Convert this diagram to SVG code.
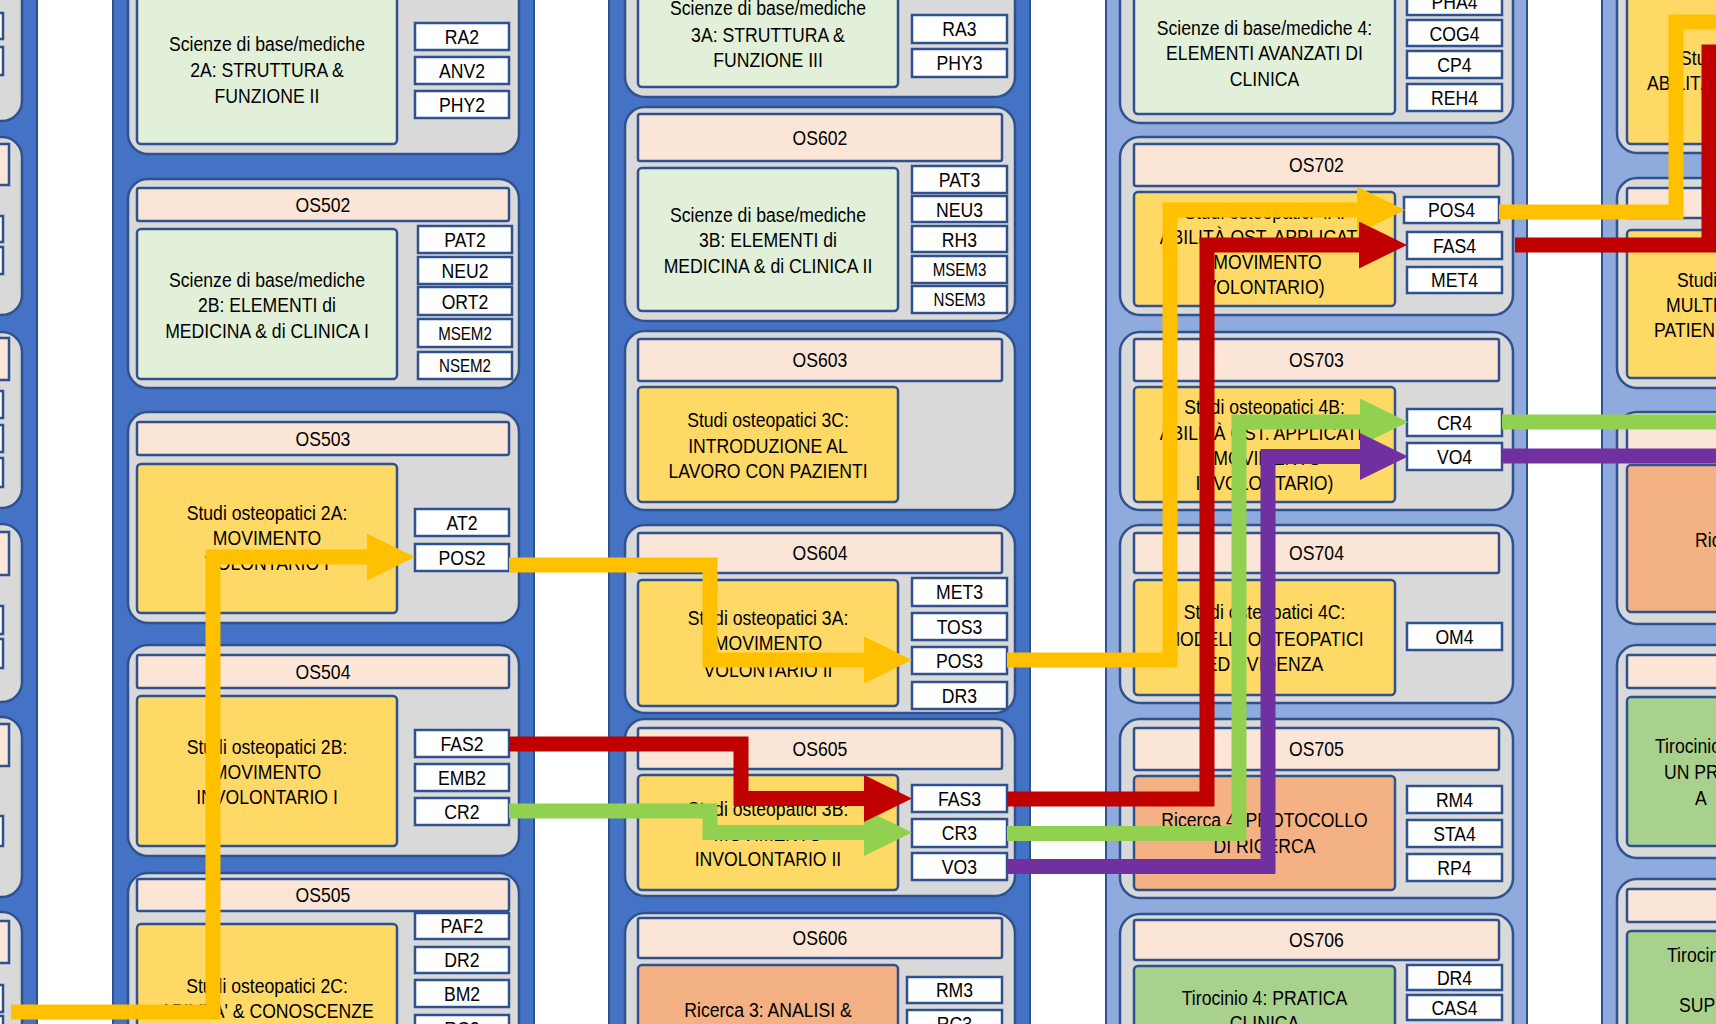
<svg xmlns="http://www.w3.org/2000/svg" width="1716" height="1024" viewBox="0 0 1716 1024">
<style>
.col{fill:#4472C4;stroke:#2F528F;stroke-width:2}
.colL{fill:#8FAADC;stroke:#2F528F;stroke-width:2}
.pn{fill:#D9D9D9;stroke:#2F528F;stroke-width:2.5}
.hd{fill:#FBE5D6;stroke:#2F528F;stroke-width:2.5}
.sci{fill:#E2F0D9;stroke:#2F528F;stroke-width:2.5}
.ost{fill:#FFD966;stroke:#2F528F;stroke-width:2.5}
.ric{fill:#F4B183;stroke:#2F528F;stroke-width:2.5}
.tir{fill:#A9D18E;stroke:#2F528F;stroke-width:2.5}
.sm{fill:#FFFFFF;stroke:#2F528F;stroke-width:2.5}
text{font-family:"Liberation Sans Narrow","Arial Narrow","Liberation Sans",sans-serif;font-size:21px;text-anchor:middle;fill:#000;transform-box:fill-box;transform-origin:50% 50%;transform:scaleX(0.84)}
.s18{font-size:18px}
.st{text-anchor:start;transform-origin:0% 50%}
.ln{fill:none;stroke-width:15;stroke-linejoin:miter;stroke-linecap:butt}
.y{stroke:#FFC000}.r{stroke:#C00000}.g{stroke:#92D050}.p{stroke:#7030A0}
</style>
<defs>
<marker id="aY" markerUnits="userSpaceOnUse" markerWidth="48" markerHeight="47" viewBox="0 0 48 47" refX="0" refY="23.5" orient="auto"><path d="M0,0 L48,23.5 L0,47 Z" fill="#FFC000"/></marker>
<marker id="aR" markerUnits="userSpaceOnUse" markerWidth="48" markerHeight="47" viewBox="0 0 48 47" refX="0" refY="23.5" orient="auto"><path d="M0,0 L48,23.5 L0,47 Z" fill="#C00000"/></marker>
<marker id="aG" markerUnits="userSpaceOnUse" markerWidth="48" markerHeight="47" viewBox="0 0 48 47" refX="0" refY="23.5" orient="auto"><path d="M0,0 L48,23.5 L0,47 Z" fill="#92D050"/></marker>
<marker id="aP" markerUnits="userSpaceOnUse" markerWidth="48" markerHeight="47" viewBox="0 0 48 47" refX="0" refY="23.5" orient="auto"><path d="M0,0 L48,23.5 L0,47 Z" fill="#7030A0"/></marker>
</defs>
<rect width="1716" height="1024" fill="#FFFFFF"/>
<g id="columns">
<rect class="col" x="-384" y="-10" width="421" height="1044"/>
<rect class="col" x="113" y="-10" width="421" height="1044"/>
<rect class="col" x="609" y="-10" width="421" height="1044"/>
<rect class="colL" x="1106" y="-10" width="421" height="1044"/>
<rect class="colL" x="1602" y="-10" width="421" height="1044"/>
</g>
<!-- Column A (partially visible) -->
<g id="semA-1"><rect class="pn" x="-369" y="-60" width="391" height="181" rx="20"/><rect class="sm" x="-92" y="13" width="95" height="26"/><rect class="sm" x="-92" y="47" width="95" height="28"/></g>
<g id="semA-2"><rect class="pn" x="-369" y="137" width="391" height="178" rx="20"/><rect class="hd" x="-355" y="144" width="364" height="41"/><rect class="sm" x="-92" y="216" width="95" height="26"/><rect class="sm" x="-92" y="247" width="95" height="27"/></g>
<g id="semA-3"><rect class="pn" x="-369" y="332" width="391" height="176" rx="20"/><rect class="hd" x="-355" y="338" width="364" height="42"/><rect class="sm" x="-92" y="391" width="95" height="27"/><rect class="sm" x="-92" y="425" width="95" height="27"/><rect class="sm" x="-92" y="458" width="95" height="29"/></g>
<g id="semA-4"><rect class="pn" x="-369" y="524" width="391" height="178" rx="20"/><rect class="hd" x="-355" y="532" width="364" height="43"/><rect class="sm" x="-92" y="606" width="95" height="28"/><rect class="sm" x="-92" y="639" width="95" height="29"/></g>
<g id="semA-5"><rect class="pn" x="-369" y="717" width="391" height="180" rx="20"/><rect class="hd" x="-355" y="724" width="364" height="42"/><rect class="sm" x="-92" y="816" width="95" height="30"/></g>
<g id="semA-6"><rect class="pn" x="-369" y="912" width="391" height="180" rx="20"/><rect class="hd" x="-355" y="921" width="364" height="42"/><rect class="sm" x="-92" y="985" width="95" height="27"/><rect class="sm" x="-92" y="1016" width="95" height="27"/></g>

<!-- Column B -->
<g id="OS501"><rect class="pn" x="128" y="-60" width="391" height="214" rx="20"/><rect class="sci" x="137" y="-6" width="260" height="150" rx="4"/>
<text x="267" y="51">Scienze di base/mediche</text><text x="267" y="77">2A: STRUTTURA &amp;</text><text x="267" y="103">FUNZIONE II</text>
<rect class="sm" x="415" y="23" width="94" height="27"/><text x="462" y="44">RA2</text>
<rect class="sm" x="415" y="57" width="94" height="27"/><text x="462" y="78">ANV2</text>
<rect class="sm" x="415" y="91" width="94" height="27"/><text x="462" y="112">PHY2</text></g>
<g id="OS502"><rect class="pn" x="128" y="179" width="391" height="209" rx="20"/><rect class="hd" x="137" y="188" width="372" height="33" rx="2"/><text x="323" y="212">OS502</text>
<rect class="sci" x="137" y="229" width="260" height="150" rx="4"/>
<text x="267" y="287">Scienze di base/mediche</text><text x="267" y="312">2B: ELEMENTI di</text><text x="267" y="338">MEDICINA &amp; di CLINICA I</text>
<rect class="sm" x="418" y="226" width="94" height="27"/><text x="465" y="247">PAT2</text>
<rect class="sm" x="418" y="257" width="94" height="27"/><text x="465" y="278">NEU2</text>
<rect class="sm" x="418" y="287" width="94" height="28"/><text x="465" y="309">ORT2</text>
<rect class="sm" x="418" y="319" width="94" height="28"/><text class="s18" x="465" y="340">MSEM2</text>
<rect class="sm" x="418" y="352" width="94" height="27"/><text class="s18" x="465" y="372">NSEM2</text></g>
<g id="OS503"><rect class="pn" x="128" y="412" width="391" height="211" rx="20"/><rect class="hd" x="137" y="422" width="372" height="33" rx="2"/><text x="323" y="446">OS503</text>
<rect class="ost" x="137" y="464" width="260" height="149" rx="4"/>
<text x="267" y="520">Studi osteopatici 2A:</text><text x="267" y="545">MOVIMENTO</text><text x="267" y="570">VOLONTARIO I</text>
<rect class="sm" x="415" y="509" width="94" height="27"/><text x="462" y="530">AT2</text>
<rect class="sm" x="415" y="544" width="94" height="27"/><text x="462" y="565">POS2</text></g>
<g id="OS504"><rect class="pn" x="128" y="645" width="391" height="211" rx="20"/><rect class="hd" x="137" y="655" width="372" height="33" rx="2"/><text x="323" y="679">OS504</text>
<rect class="ost" x="137" y="696" width="260" height="150" rx="4"/>
<text x="267" y="754">Studi osteopatici 2B:</text><text x="267" y="779">MOVIMENTO</text><text x="267" y="804">INVOLONTARIO I</text>
<rect class="sm" x="415" y="730" width="94" height="27"/><text x="462" y="751">FAS2</text>
<rect class="sm" x="415" y="764" width="94" height="27"/><text x="462" y="785">EMB2</text>
<rect class="sm" x="415" y="798" width="94" height="27"/><text x="462" y="819">CR2</text></g>
<g id="OS505"><rect class="pn" x="128" y="873" width="391" height="220" rx="20"/><rect class="hd" x="137" y="879" width="372" height="32" rx="2"/><text x="323" y="902">OS505</text>
<rect class="ost" x="137" y="924" width="260" height="150" rx="4"/>
<text x="267" y="993">Studi osteopatici 2C:</text><text x="267" y="1018">ABILITA' &amp; CONOSCENZE</text>
<rect class="sm" x="415" y="913" width="94" height="26"/><text x="462" y="933">PAF2</text>
<rect class="sm" x="415" y="947" width="94" height="26"/><text x="462" y="967">DR2</text>
<rect class="sm" x="415" y="980" width="94" height="27"/><text x="462" y="1001">BM2</text>
<rect class="sm" x="415" y="1015" width="94" height="27"/><text x="462" y="1036">RC2</text></g>

<!-- Column C -->
<g id="OS601"><rect class="pn" x="625" y="-60" width="390" height="157" rx="20"/><rect class="sci" x="638" y="-19" width="260" height="106" rx="4"/>
<text x="768" y="15">Scienze di base/mediche</text><text x="768" y="42">3A: STRUTTURA &amp;</text><text x="768" y="67">FUNZIONE III</text>
<rect class="sm" x="912" y="15" width="95" height="28"/><text x="959.5" y="36">RA3</text>
<rect class="sm" x="912" y="49" width="95" height="28"/><text x="959.5" y="70">PHY3</text></g>
<g id="OS602"><rect class="pn" x="625" y="107" width="390" height="214" rx="20"/><rect class="hd" x="638" y="114" width="364" height="47" rx="2"/><text x="820" y="145">OS602</text>
<rect class="sci" x="638" y="168" width="260" height="143" rx="4"/>
<text x="768" y="222">Scienze di base/mediche</text><text x="768" y="247">3B: ELEMENTI di</text><text x="768" y="273">MEDICINA &amp; di CLINICA II</text>
<rect class="sm" x="912" y="166" width="95" height="27"/><text x="959.5" y="187">PAT3</text>
<rect class="sm" x="912" y="196" width="95" height="26"/><text x="959.5" y="217">NEU3</text>
<rect class="sm" x="912" y="226" width="95" height="26"/><text x="959.5" y="247">RH3</text>
<rect class="sm" x="912" y="256" width="95" height="27"/><text class="s18" x="959.5" y="276">MSEM3</text>
<rect class="sm" x="912" y="286" width="95" height="27"/><text class="s18" x="959.5" y="306">NSEM3</text></g>
<g id="OS603"><rect class="pn" x="625" y="331" width="390" height="179" rx="20"/><rect class="hd" x="638" y="339" width="364" height="42" rx="2"/><text x="820" y="367.5">OS603</text>
<rect class="ost" x="638" y="387" width="260" height="115" rx="4"/>
<text x="768" y="427">Studi osteopatici 3C:</text><text x="768" y="453">INTRODUZIONE AL</text><text x="768" y="478">LAVORO CON PAZIENTI</text></g>
<g id="OS604"><rect class="pn" x="625" y="525" width="390" height="188" rx="20"/><rect class="hd" x="638" y="533" width="364" height="40" rx="2"/><text x="820" y="560.5">OS604</text>
<rect class="ost" x="638" y="580" width="260" height="126" rx="4"/>
<text x="768" y="625">Studi osteopatici 3A:</text><text x="768" y="650">MOVIMENTO</text><text x="768" y="677">VOLONTARIO II</text>
<rect class="sm" x="912" y="578" width="95" height="28"/><text x="959.5" y="599">MET3</text>
<rect class="sm" x="912" y="613" width="95" height="27"/><text x="959.5" y="634">TOS3</text>
<rect class="sm" x="912" y="647" width="95" height="27"/><text x="959.5" y="668">POS3</text>
<rect class="sm" x="912" y="682" width="95" height="27"/><text x="959.5" y="703">DR3</text></g>
<g id="OS605"><rect class="pn" x="625" y="719" width="390" height="177" rx="20"/><rect class="hd" x="638" y="728" width="364" height="41" rx="2"/><text x="820" y="756">OS605</text>
<rect class="ost" x="638" y="775" width="260" height="115" rx="4"/>
<text x="768" y="816">Studi osteopatici 3B:</text><text x="768" y="841">MOVIMENTO</text><text x="768" y="866">INVOLONTARIO II</text>
<rect class="sm" x="912" y="785" width="95" height="27"/><text x="959.5" y="806">FAS3</text>
<rect class="sm" x="912" y="819" width="95" height="28"/><text x="959.5" y="840">CR3</text>
<rect class="sm" x="912" y="853" width="95" height="27"/><text x="959.5" y="874">VO3</text></g>
<g id="OS606"><rect class="pn" x="625" y="913" width="390" height="180" rx="20"/><rect class="hd" x="638" y="918" width="364" height="40" rx="2"/><text x="820" y="945.5">OS606</text>
<rect class="ric" x="638" y="965" width="260" height="130" rx="4"/>
<text x="768" y="1017">Ricerca 3: ANALISI &amp;</text>
<rect class="sm" x="907" y="977" width="95" height="26"/><text x="954.5" y="997">RM3</text>
<rect class="sm" x="907" y="1010" width="95" height="27"/><text x="954.5" y="1031">RC3</text></g>

<!-- Column D -->
<g id="OS701"><rect class="pn" x="1120" y="-60" width="393" height="183" rx="20"/><rect class="sci" x="1134" y="-8" width="261" height="122" rx="4"/>
<text x="1264.5" y="35">Scienze di base/mediche 4:</text><text x="1264.5" y="60">ELEMENTI AVANZATI DI</text><text x="1264.5" y="86">CLINICA</text>
<rect class="sm" x="1407" y="-12" width="95" height="27"/><text x="1454.5" y="9">PHA4</text>
<rect class="sm" x="1407" y="20" width="95" height="26"/><text x="1454.5" y="41">COG4</text>
<rect class="sm" x="1407" y="51" width="95" height="27"/><text x="1454.5" y="72">CP4</text>
<rect class="sm" x="1407" y="84" width="95" height="27"/><text x="1454.5" y="105">REH4</text></g>
<g id="OS702"><rect class="pn" x="1120" y="137" width="393" height="178" rx="20"/><rect class="hd" x="1134" y="144" width="365" height="42" rx="2"/><text x="1316.5" y="172.5">OS702</text>
<rect class="ost" x="1134" y="192" width="261" height="114" rx="4"/>
<text x="1264.5" y="219">Studi osteopatici 4A:</text><text x="1264.5" y="244">ABILITÀ OST. APPLICATE</text><text x="1264.5" y="269">(MOVIMENTO</text><text x="1264.5" y="294">VOLONTARIO)</text>
<rect class="sm" x="1404" y="197" width="95" height="26"/><text x="1451.5" y="217.5">POS4</text>
<rect class="sm" x="1407" y="232" width="95" height="27"/><text x="1454.5" y="253">FAS4</text>
<rect class="sm" x="1407" y="267" width="95" height="26"/><text x="1454.5" y="287.5">MET4</text></g>
<g id="OS703"><rect class="pn" x="1120" y="332" width="393" height="178" rx="20"/><rect class="hd" x="1134" y="339" width="365" height="42" rx="2"/><text x="1316.5" y="367.5">OS703</text>
<rect class="ost" x="1134" y="387" width="261" height="115" rx="4"/>
<text x="1264.5" y="414">Studi osteopatici 4B:</text><text x="1264.5" y="440">ABILITÀ OST. APPLICATE</text><text x="1264.5" y="465">(MOVIMENTO</text><text x="1264.5" y="490">INVOLONTARIO)</text>
<rect class="sm" x="1407" y="409" width="95" height="27"/><text x="1454.5" y="430">CR4</text>
<rect class="sm" x="1407" y="443" width="95" height="27"/><text x="1454.5" y="464">VO4</text></g>
<g id="OS704"><rect class="pn" x="1120" y="525" width="393" height="178" rx="20"/><rect class="hd" x="1134" y="533" width="365" height="40" rx="2"/><text x="1316.5" y="560.5">OS704</text>
<rect class="ost" x="1134" y="580" width="261" height="115" rx="4"/>
<text x="1264.5" y="619">Studi osteopatici 4C:</text><text x="1264.5" y="646">MODELLI OSTEOPATICI</text><text x="1264.5" y="671">ED EVIDENZA</text>
<rect class="sm" x="1407" y="623" width="95" height="27"/><text x="1454.5" y="644">OM4</text></g>
<g id="OS705"><rect class="pn" x="1120" y="719" width="393" height="179" rx="20"/><rect class="hd" x="1134" y="728" width="365" height="42" rx="2"/><text x="1316.5" y="756.5">OS705</text>
<rect class="ric" x="1134" y="776" width="261" height="114" rx="4"/>
<text x="1264.5" y="827">Ricerca 4: PROTOCOLLO</text><text x="1264.5" y="853">DI RICERCA</text>
<rect class="sm" x="1407" y="786" width="95" height="27"/><text x="1454.5" y="807">RM4</text>
<rect class="sm" x="1407" y="820" width="95" height="27"/><text x="1454.5" y="841">STA4</text>
<rect class="sm" x="1407" y="854" width="95" height="27"/><text x="1454.5" y="875">RP4</text></g>
<g id="OS706"><rect class="pn" x="1120" y="914" width="393" height="180" rx="20"/><rect class="hd" x="1134" y="920" width="365" height="40" rx="2"/><text x="1316.5" y="947.5">OS706</text>
<rect class="tir" x="1134" y="966" width="261" height="130" rx="4"/>
<text x="1264.5" y="1005">Tirocinio 4: PRATICA</text><text x="1264.5" y="1030">CLINICA</text>
<rect class="sm" x="1407" y="965" width="95" height="25"/><text x="1454.5" y="985">DR4</text>
<rect class="sm" x="1407" y="995" width="95" height="25"/><text x="1454.5" y="1015">CAS4</text></g>

<!-- Column E (partially visible) -->
<g id="semE-1"><rect class="pn" x="1617" y="-60" width="393" height="213" rx="20"/><rect class="ost" x="1627" y="-6" width="261" height="150" rx="4"/>
<text class="st" x="1680" y="65">Studi</text><text class="st" x="1647" y="90">ABILITÀ</text></g>
<g id="semE-2"><rect class="pn" x="1617" y="178" width="393" height="210" rx="20"/><rect class="hd" x="1627" y="188" width="365" height="30" rx="2"/><rect class="ost" x="1627" y="230" width="261" height="148" rx="4"/>
<text class="st" x="1677" y="287">Studi</text><text class="st" x="1666" y="312">MULTI</text><text class="st" x="1654" y="337">PATIEN</text></g>
<g id="semE-3"><rect class="pn" x="1617" y="412" width="393" height="212" rx="20"/><rect class="hd" x="1627" y="422" width="365" height="33" rx="2"/><rect class="ric" x="1627" y="465" width="261" height="147" rx="4"/>
<text class="st" x="1695" y="547">Ricerca</text></g>
<g id="semE-4"><rect class="pn" x="1617" y="645" width="393" height="213" rx="20"/><rect class="hd" x="1627" y="655" width="365" height="33" rx="2"/><rect class="tir" x="1627" y="697" width="261" height="149" rx="4"/>
<text class="st" x="1655" y="753">Tirocinio</text><text class="st" x="1664" y="779">UN PR</text><text class="st" x="1695" y="805">A</text></g>
<g id="semE-5"><rect class="pn" x="1617" y="879" width="393" height="220" rx="20"/><rect class="hd" x="1627" y="889" width="365" height="33" rx="2"/><rect class="tir" x="1627" y="931" width="261" height="150" rx="4"/>
<text class="st" x="1667" y="962">Tirocin</text><text class="st" x="1679" y="1012">SUP</text></g>

<g id="connectors">
<path class="ln y" d="M11,1012 H213 V557 H367" marker-end="url(#aY)"/>
<path class="ln y" d="M509,565 H710 V660 H864" marker-end="url(#aY)"/>
<path class="ln y" d="M1007,660 H1170 V210 H1357" marker-end="url(#aY)"/>
<path class="ln y" d="M1499,212 H1676 V22 H1730"/>
<path class="ln g" d="M509,811 H710 V832.5 H864" marker-end="url(#aG)"/>
<path class="ln g" d="M1007,833.5 H1239 V422 H1360" marker-end="url(#aG)"/>
<path class="ln g" d="M1502,422 H1730"/>
<path class="ln p" d="M1007,866.5 H1268 V456.5 H1360" marker-end="url(#aP)"/>
<path class="ln p" d="M1502,456 H1730"/>
<path class="ln r" d="M509,744 H741 V798.5 H864" marker-end="url(#aR)"/>
<path class="ln r" d="M1007,799 H1207 V245 H1359" marker-end="url(#aR)"/>
<path class="ln r" d="M1515,245 H1709 V52 H1740"/>
</g>
</svg>
